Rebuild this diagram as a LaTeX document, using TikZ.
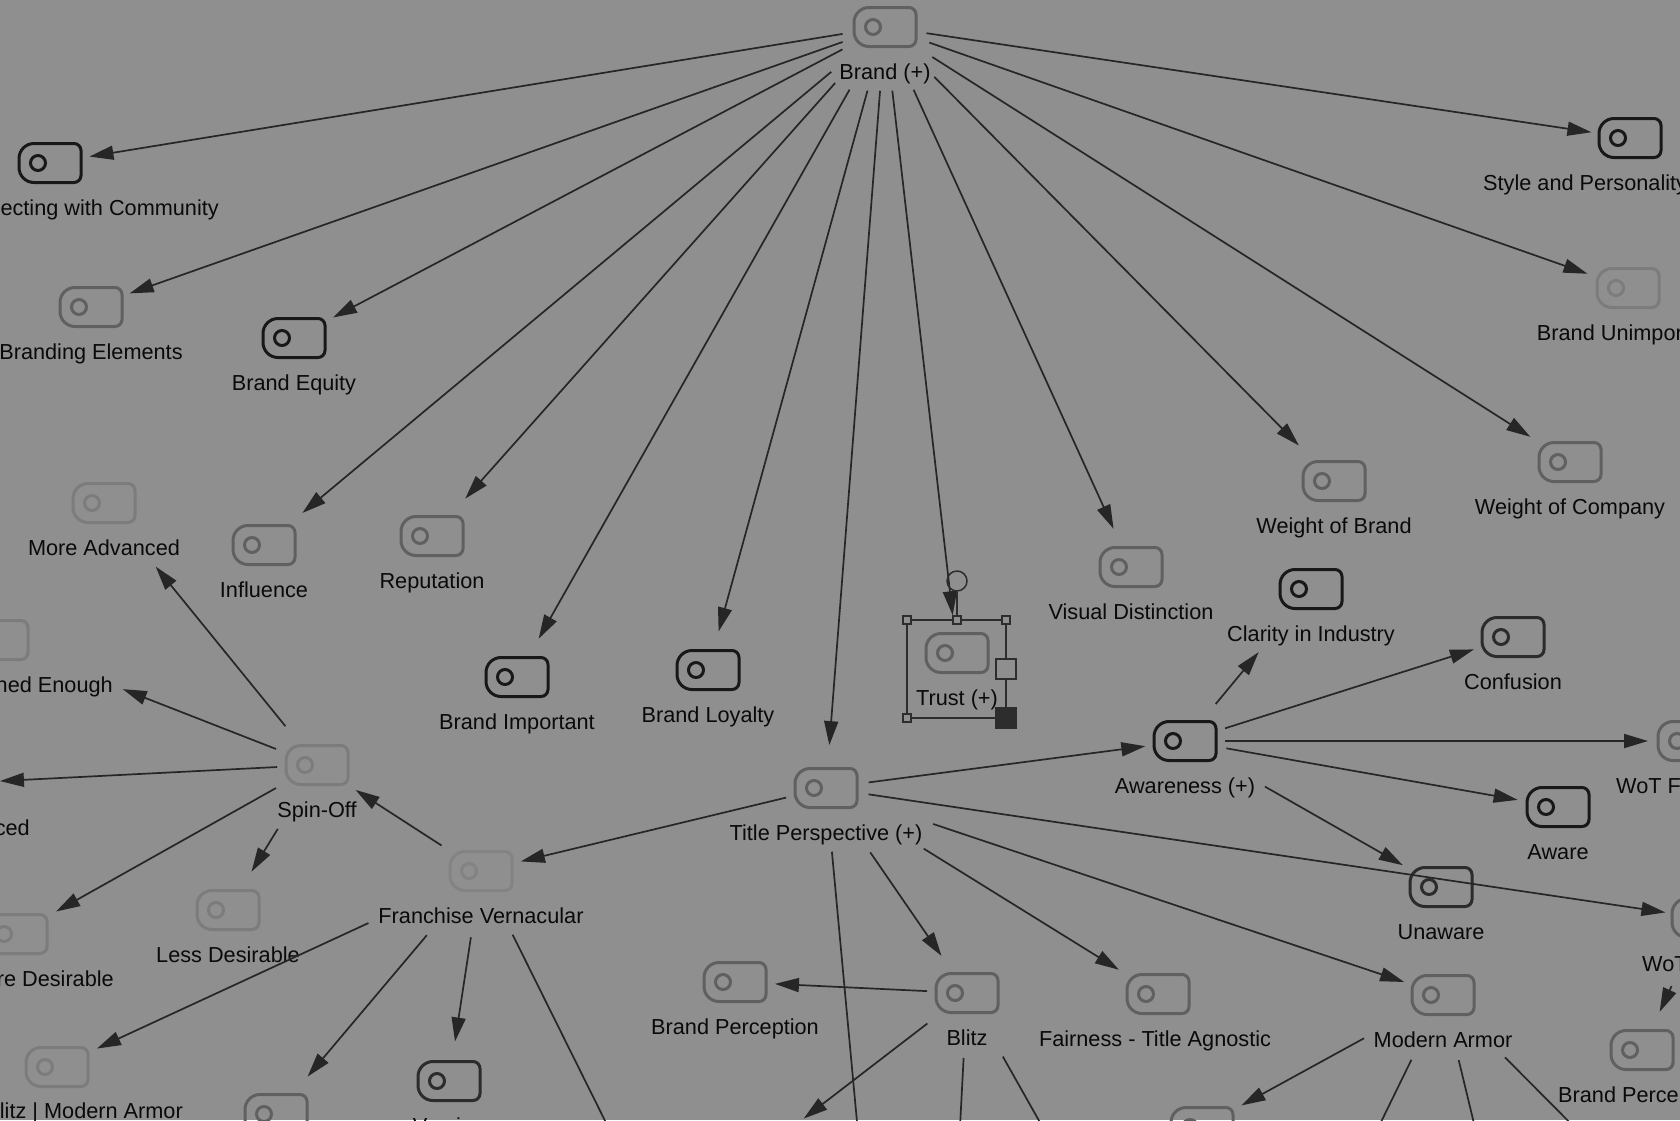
\documentclass[tikz,border=0pt]{standalone}
\usepackage{fontspec}
\setmainfont{Liberation Sans}
\usetikzlibrary{arrows.meta,calc}
\definecolor{bg}{RGB}{143,143,143}
\definecolor{dk}{RGB}{24,24,24}
\definecolor{dkb}{RGB}{44,44,44}
\definecolor{md}{RGB}{96,96,96}
\definecolor{ft}{RGB}{124,124,124}
\definecolor{ftb}{RGB}{131,131,131}
\definecolor{ec}{RGB}{38,38,38}
\definecolor{txt}{RGB}{10,10,10}
\definecolor{sc}{RGB}{45,45,45}
\newcommand\lbl{\fontsize{21.7pt}{26pt}\selectfont}
% name, x, y, colour, label
\newcommand\mmn[5]{\node[hub] (#1) at (#2,#3) {};\pic[#4] at (#1.center) {tog};\node[lab] (#1-l) at ($(#1.center)+(0,52)$) {#5};}
% name, x, y, colour (icon only)
\newcommand\mmi[4]{\node[hub] (#1) at (#2,#3) {};\pic[#4] at (#1.center) {tog};}
% source, target, shorten start, shorten end
\newcommand\ed[4]{\draw[edge, shorten <=#3pt, shorten >=#4pt] (#1.center) -- (#2.center);}
\begin{document}
\begin{tikzpicture}[x=1pt,y=-1pt,
  hub/.style={inner sep=0pt, minimum width=62pt, minimum height=39pt},
  lab/.style={font=\lbl, text=txt, anchor=base, inner sep=0pt},
  edge/.style={draw=ec, line width=1.7pt, -{Triangle[length=24pt,width=14pt]}},
  icon/.style={line width=3pt},
  tog/.pic={\draw[icon, rounded corners=7pt] (0,-19.5) -- (31,-19.5) -- (31,19.5) -- (0,19.5) [rounded corners=15pt] -- (-31,19.5) -- (-31,-19.5) -- cycle;
            \draw[icon] (-12,0) circle[radius=7.5];},
  sel/.style={draw=sc, line width=1.5pt},
  hs/.style={draw=sc, fill=bg, line width=1.2pt, minimum size=8pt, inner sep=0pt},
  hb/.style={draw=sc, fill=bg, line width=1.5pt, minimum size=20pt, inner sep=0pt},
  hf/.style={draw=sc, fill=sc, line width=1.5pt, minimum size=20pt, inner sep=0pt}
]
\useasboundingbox (0,0) rectangle (1680,1120);
\fill[bg] (0,0) rectangle (1680,1120);
\clip (0,0) rectangle (1680,1120);

% nodes
\mmn{brand}{885}{27}{md}{Brand (+)}
\mmi{conn}{50}{163}{dk}
\node[lab, anchor=base east] (conn-l) at (219,215) {ecting with Community};
\mmn{brandel}{91}{307}{md}{Branding Elements}
\mmn{equity}{294}{338}{dk}{Brand Equity}
\mmi{style}{1630}{138}{dk}
\node[lab, anchor=base west] (style-l) at (1483,190) {Style and Personality};
\mmn{unimp}{1628}{288}{ft}{Brand Unimportant}
\mmn{moreadv}{104}{503}{ft}{More Advanced}
\mmn{influence}{264}{545}{md}{Influence}
\mmn{reputation}{432}{536}{md}{Reputation}
\mmn{brandimp}{517}{677}{dk}{Brand Important}
\mmn{loyalty}{708}{670}{dk}{Brand Loyalty}
\mmn{trust}{957}{653}{md}{Trust (+)}
\mmn{visual}{1131}{567}{md}{Visual Distinction}
\mmn{weightb}{1334}{481}{md}{Weight of Brand}
\mmn{weightc}{1570}{462}{md}{Weight of Company}
\mmn{clarity}{1311}{589}{dk}{Clarity in Industry}
\mmn{confusion}{1513}{637}{dkb}{Confusion}
\mmn{awareness}{1185}{741}{dk}{Awareness (+)}
\mmi{wotf}{1689}{741}{md}
\node[lab, anchor=base west] (wotf-l) at (1616,793) {WoT F};
\mmn{aware}{1558}{807}{dk}{Aware}
\mmn{unaware}{1441}{887}{dkb}{Unaware}
\mmi{wotb}{1703}{918}{md}
\node[lab, anchor=base west] (wotb-l) at (1642,971) {WoT};
\mmn{brandpercb}{1642}{1050}{md}{Brand Perception}
\mmn{modern}{1443}{995}{md}{Modern Armor}
\mmi{fairness}{1158}{994}{md}
\node[lab] (fairness-l) at (1155,1046) {Fairness - Title Agnostic};
\mmn{blitz}{967}{993}{md}{Blitz}
\mmn{brandperc}{735}{982}{md}{Brand Perception}
\mmn{title}{826}{788}{md}{Title Perspective (+)}
\mmn{franchise}{481}{871}{ftb}{Franchise Vernacular}
\mmn{spinoff}{317}{765}{ft}{Spin-Off}
\mmn{lessdes}{228}{910}{ft}{Less Desirable}
\mmi{moredes}{16}{934}{ft}
\node[lab, anchor=base east] (moredes-l) at (114,986) {re Desirable};
\mmi{nedenough}{-3}{640}{ft}
\node[lab, anchor=base east] (nedenough-l) at (113,692) {ned Enough};
\mmi{lessadv}{-39}{783}{ft}
\node[lab, anchor=base east] (lessadv-l) at (30,835) {ced};
\mmi{blitzma}{57}{1067}{ft}
\node[lab, anchor=base east] (blitzma-l) at (183,1118) {litz | Modern Armor};
\mmi{bottoma}{276}{1114}{md}
\mmn{version}{449}{1081}{dkb}{Version}
\mmi{bottomb}{1202}{1127}{md}
\mmi{blitzdl}{768}{1146}{md}

% off-page ends
\coordinate (offT) at (861,1165);
\coordinate (offF) at (627,1165);
\coordinate (offBa) at (958,1165);
\coordinate (offBb) at (1064,1165);
\coordinate (offMa) at (1360,1165);
\coordinate (offMb) at (1484,1165);
\coordinate (offMc) at (1612,1165);

% connectors from Brand
\ed{brand}{conn}{43}{40}
\ed{brand}{brandel}{45}{41}
\ed{brand}{equity}{48}{44}
\ed{brand}{influence}{70}{50}
\ed{brand}{reputation}{75}{50}
\ed{brand}{brandimp}{72}{44}
\ed{brand}{loyalty}{66}{40}
\ed{brand}{title}{64}{43}
\ed{brand}{trust}{64}{38}
\ed{brand}{visual}{69}{42}
\ed{brand}{weightb}{70}{50}
\ed{brand}{weightc}{56}{47}
\ed{brand}{unimp}{47}{43}
\ed{brand}{style}{42}{39}
% from Title Perspective
\ed{title}{awareness}{43}{40}
\ed{title}{franchise}{41}{41}
\ed{title}{blitz}{78}{45}
\ed{title}{fairness}{115}{46}
\ed{title}{modern}{113}{41}
\ed{title}{wotb}{43}{38}
\draw[edge, shorten <=64pt] (title.center) -- (offT);
% from Awareness
\ed{awareness}{clarity}{48}{82}
\ed{awareness}{confusion}{42}{41}
\ed{awareness}{wotf}{40}{41}
\ed{awareness}{aware}{42}{41}
\ed{awareness}{unaware}{92}{44}
% from Spin-Off
\ed{spinoff}{moreadv}{50}{82}
\ed{spinoff}{nedenough}{44}{135}
\ed{spinoff}{lessadv}{40}{39}
\ed{spinoff}{moredes}{47}{46}
\ed{spinoff}{lessdes}{75}{45}
% from Franchise Vernacular
\ed{franchise}{spinoff}{47}{46}
\ed{franchise}{blitzma}{124}{44}
\ed{franchise}{bottoma}{84}{49}
\ed{franchise}{version}{67}{40}
\draw[edge, shorten <=71pt] (franchise.center) -- (offF);
% from Blitz
\ed{blitz}{brandperc}{40}{40}
\ed{blitz}{blitzdl}{50}{45}
\draw[edge, shorten <=65pt] (blitz.center) -- (offBa);
\draw[edge, shorten <=73pt] (blitz.center) -- (offBb);
% from Modern Armor
\ed{modern}{bottomb}{90}{45}
\draw[edge, shorten <=72pt] (modern.center) -- (offMa);
\draw[edge, shorten <=67pt] (modern.center) -- (offMb);
\draw[edge, shorten <=88pt] (modern.center) -- (offMc);
% WoT
\ed{wotb}{brandpercb}{75}{42}

% selection frame round Trust (+)
\draw[sel] ($(trust.center)+(-50,-33)$) rectangle ($(trust.center)+(49,65)$);
\node[draw=sc, line width=1.5pt, circle, minimum size=20pt, inner sep=0pt] (rot) at ($(trust.center)+(0,-72)$) {};
\node[hs] (hnw) at ($(trust.center)+(-50,-33)$) {};
\node[hs] (hn) at ($(trust.center)+(0,-33)$) {};
\node[hs] (hne) at ($(trust.center)+(49,-33)$) {};
\node[hs] (hsw) at ($(trust.center)+(-50,65)$) {};
\node[hb] (he) at ($(trust.center)+(49,16)$) {};
\node[hf] (hse) at ($(trust.center)+(49,65)$) {};
\draw[sel] (rot.south) -- (hn.north);
\end{tikzpicture}
\end{document}
